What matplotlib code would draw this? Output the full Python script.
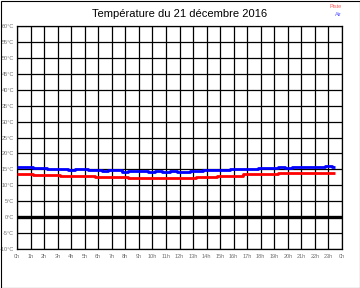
import matplotlib
matplotlib.use("Agg")
import matplotlib.pyplot as plt
from matplotlib.patches import Rectangle

# Air temperature (blue), step changes: start hour -> value
air_hours = [0, 1.2, 2.25, 3.8, 4.3, 5.25, 6.25, 6.75, 7.75, 8.2, 9.7, 10.2, 10.7,
             11.3, 11.8, 12.8, 13.75, 15.75, 17.8, 19.3, 19.8, 20.3, 22.75, 23.25, 23.5]
air_temp = [15.8, 15.5, 15.2, 14.9, 15.2, 14.9, 14.6, 14.9, 14.3, 14.6, 14.3, 14.6, 14.3,
            14.6, 14.2, 14.6, 14.9, 15.2, 15.5, 15.8, 15.5, 15.8, 16.2, 15.8, 15.8]

# Track (piste) temperature (red)
piste_hours = [0, 1.2, 3.2, 5.75, 8.2, 13.25, 14.75, 16.7, 19.3, 22.25, 23.5]
piste_temp = [13.6, 13.3, 12.95, 12.6, 12.3, 12.6, 12.95, 13.4, 13.7, 14.0, 14.0]

y_ticks = list(range(-10, 61, 5))
y_labels = [f"{v}°C" for v in y_ticks]
x_ticks = list(range(0, 25))
x_labels = [f"{h % 24}h" for h in x_ticks]

title = "Température du 21 décembre 2016"

fig = plt.figure(figsize=(3.6, 2.88), dpi=100)
ax = fig.add_axes([17 / 360, 1 - 249 / 288, 325 / 360, 223 / 288])

ax.set_xlim(0, 24)
ax.set_ylim(-10, 60)
ax.set_xticks(x_ticks)
ax.set_xticklabels(x_labels)
ax.set_yticks(y_ticks)
ax.set_yticklabels(y_labels)
ax.tick_params(length=0, labelsize=4.0, labelcolor="#707070")
ax.tick_params(axis="y", pad=2)
ax.tick_params(axis="x", pad=3.5)
for lab in ax.get_xticklabels() + ax.get_yticklabels():
    lab.set_family("Liberation Sans")
ax.grid(True, color="black", linewidth=0.9)
ax.set_axisbelow(True)
for sp in ax.spines.values():
    sp.set_color("black")
    sp.set_linewidth(0.9)

ax.axhline(0, color="black", linewidth=2.4, zorder=3)
ax.plot(piste_hours, piste_temp, drawstyle="steps-post", color="#ff0000",
        linewidth=2.0, solid_capstyle="butt", zorder=4)
ax.plot(air_hours, air_temp, drawstyle="steps-post", color="#0000ff",
        linewidth=2.0, solid_capstyle="butt", zorder=4)

fig.text(180 / 360, 1 - 14 / 288, title, ha="center", va="center",
         fontsize=8, family="Liberation Sans")
fig.text(342 / 360, 1 - 7 / 288, "Piste", ha="right", va="center",
         fontsize=4, color="#ff5a5a", family="Liberation Sans")
fig.text(342 / 360, 1 - 15 / 288, "Air", ha="right", va="center",
         fontsize=4, color="#5a5aff", family="Liberation Sans")

fig.patches.append(Rectangle((0.5 / 360, 0.5 / 288), 359 / 360, 287 / 288,
                             transform=fig.transFigure, fill=False,
                             edgecolor="black", linewidth=0.8))

fig.savefig("out.png", dpi=100)
